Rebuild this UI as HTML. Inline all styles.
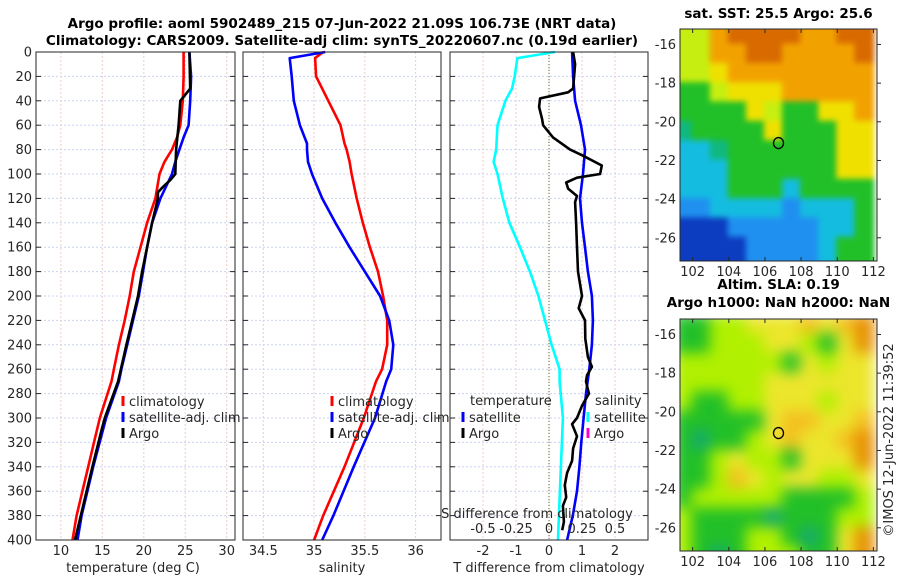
<!DOCTYPE html>
<html><head><meta charset="utf-8"><style>
html,body{margin:0;padding:0;background:#fff;}
svg{display:block;font-family:"DejaVu Sans","Liberation Sans",sans-serif;}
.tk{font-size:13px;fill:#262626;}
.tt{font-size:13.5px;font-weight:bold;fill:#000;}
</style></head><body>
<svg id="fig" width="900" height="580" viewBox="0 0 900 580" xmlns="http://www.w3.org/2000/svg">
<text class="tt" x="342" y="28" text-anchor="middle">Argo profile: aoml 5902489_215 07-Jun-2022 21.09S 106.73E (NRT data)</text>
<text class="tt" x="342" y="45" text-anchor="middle">Climatology: CARS2009. Satellite-adj clim: synTS_20220607.nc (0.19d earlier)</text>
<g id="grid"></g>
<g id="series"></g>
<g id="axes"></g>
<g id="maps"></g>
<text class="tk" transform="translate(893,440) rotate(-90)" text-anchor="middle">©IMOS 12-Jun-2022 11:39:52</text>
</svg>
<script>
// ---- data ----
const depthTicks = [0,20,40,60,80,100,120,140,160,180,200,220,240,260,280,300,320,340,360,380,400];
const tTicks = [10,15,20,25,30];
const sTicks = [34.5,35,35.5,36];
const dTTicks = [-2,-1,0,1,2];
const dSTicks = [-0.5,-0.25,0,0.25,0.5];
const dSTickLabels = ['-0.5','-0.25','0','0.25','0.5'];

const climDepth = [0,20,40,60,70,80,90,100,120,140,160,180,200,220,240,260,270,300,340,380,400];
const tClim    = [24.8,24.8,24.7,24.4,24.0,23.4,22.5,21.9,21.4,20.4,19.6,18.8,18.3,17.7,17.0,16.4,16.1,14.7,13.3,11.9,11.4];
const tSat     = [25.5,25.7,25.6,25.4,24.8,24.3,23.8,23.4,22.0,21.0,20.4,19.9,19.4,18.7,18.0,17.3,17.0,15.45,13.9,12.5,12.0];
const argoDepthT = [0,30,35,40,60,80,100,105,110,115,120,140,160,180,200,240,270,300,310,340,380,400];
const tArgo    = [25.5,25.6,25.0,24.4,24.2,23.9,23.8,23.2,22.4,21.7,21.7,21.0,20.4,19.8,19.3,17.9,16.9,15.3,14.9,13.8,12.4,11.7];

const salDepth = [0,5,20,40,60,75,80,90,100,120,140,160,180,200,220,240,260,270,300,340,380,400];
const sClim    = [35.09,35.01,35.02,35.14,35.26,35.30,35.32,35.35,35.37,35.42,35.48,35.55,35.63,35.68,35.72,35.72,35.67,35.61,35.49,35.30,35.09,35.00];
const sSat     = [35.11,34.76,34.78,34.80,34.86,34.93,34.93,34.94,34.98,35.08,35.21,35.35,35.50,35.65,35.74,35.78,35.76,35.71,35.60,35.39,35.19,35.08];

const diffDepth = [0,20,40,60,80,100,120,140,160,180,200,220,240,260,280,300,320,340,360,380,400];
const dTSat    = [0.70,0.73,0.79,0.97,1.09,1.03,0.94,1.00,1.09,1.18,1.30,1.33,1.30,1.22,1.12,1.05,0.98,0.92,0.85,0.72,0.55];
const dSDepth  = [0,5,20,30,40,60,80,90,100,120,140,160,180,200,220,240,260,270,300,340,380,400];
const dSSat    = [0.045,-0.24,-0.26,-0.28,-0.33,-0.39,-0.40,-0.42,-0.39,-0.35,-0.30,-0.22,-0.145,-0.08,-0.03,0.02,0.08,0.08,0.105,0.09,0.075,0.068];
const argoDepthD = [0,10,20,30,33,38,45,55,60,70,80,85,93,100,103,107,112,118,123,140,160,180,200,210,220,235,250,258,265,270,280,290,300,305,315,325,335,345,355,365,372,385,392];
const dTArgo   = [0.73,0.79,0.76,0.73,0.58,-0.27,-0.30,-0.21,-0.18,0.12,0.64,1.03,1.60,1.55,0.85,0.52,0.58,0.85,0.79,0.82,0.85,0.88,1.00,0.90,1.09,1.10,1.18,1.30,1.15,1.12,1.21,1.00,0.85,0.70,0.85,0.73,0.70,0.55,0.48,0.52,0.42,0.45,0.40];

// ---- scales ----
const yTop=52, yBot=540;
const yD = d => yTop + d*(yBot-yTop)/400;
const P1={x0:36,x1:235,min:7,max:31};
const P2={x0:243,x1:441,min:34.3,max:36.25};
const P3={x0:450,x1:648,min:-3,max:3};
const sx = (p,v) => p.x0 + (v-p.min)*(p.x1-p.x0)/(p.max-p.min);
const xDS = v => sx(P3, v*4);

const NS='http://www.w3.org/2000/svg';
function mk(tag, attrs, parent){const e=document.createElementNS(NS,tag);for(const k in attrs)e.setAttribute(k,attrs[k]);parent.appendChild(e);return e;}
const grid=document.getElementById('grid'), series=document.getElementById('series'), axes=document.getElementById('axes'), maps=document.getElementById('maps');

function panel(p, ticks, labels, name){
  for(const d of depthTicks){
    const l=mk('line',{x1:p.x0,x2:p.x1,y1:yD(d),y2:yD(d),stroke:'#c9d2f0','stroke-width':1,'stroke-dasharray':'2,2'},grid);
    
    
    const t1=mk('line',{x1:p.x0,x2:p.x0+5,y1:yD(d),y2:yD(d),stroke:'#262626'},axes);
    
    
    const t2=mk('line',{x1:p.x1-5,x2:p.x1,y1:yD(d),y2:yD(d),stroke:'#262626'},axes);
    
    
  }
  ticks.forEach((v,i)=>{
    const x=sx(p,v);
    const l=mk('line',{x1:x,x2:x,y1:yTop,y2:yBot,stroke:'#e8cfc8','stroke-width':1,'stroke-dasharray':'2,2'},grid);
    
    
    const t=mk('text',{x:x,y:555,'text-anchor':'middle',class:'tk'},axes);
    t.textContent=labels[i];
    
    
  });
  const r=mk('rect',{x:p.x0,y:yTop,width:p.x1-p.x0,height:yBot-yTop,fill:'none',stroke:'#262626','stroke-width':1},axes);
  
  
}
panel(P1,tTicks,tTicks.map(String),'temperature-panel');
panel(P2,sTicks,sTicks.map(String),'salinity-panel');
panel(P3,dTTicks,dTTicks.map(String),'difference-panel');

depthTicks.forEach(d=>{
  const t=mk('text',{x:32,y:yD(d)+4.5,'text-anchor':'end',class:'tk'},axes);
  t.textContent=String(d);
  
  
});
dSTicks.forEach((v,i)=>{
  const t=mk('text',{x:xDS(v),y:533,'text-anchor':'middle',class:'tk'},axes);
  t.textContent=dSTickLabels[i];
  
  
});
const z=mk('line',{x1:sx(P3,0),x2:sx(P3,0),y1:yTop,y2:yBot,stroke:'#556b2f','stroke-width':1,'stroke-dasharray':'1,2'},grid);



function line(xs, ds, xf, color, name){
  const pts=xs.map((v,i)=>xf(v).toFixed(1)+','+yD(ds[i]).toFixed(1)).join(' ');
  const pl=mk('polyline',{points:pts,fill:'none',stroke:color,'stroke-width':2.6,'stroke-linejoin':'round'},series);
  
  
}
line(tClim, climDepth, v=>sx(P1,v), '#ff0000', 'temperature-climatology-line');
line(tSat, climDepth, v=>sx(P1,v), '#0000ff', 'temperature-satellite-line');
line(tArgo, argoDepthT, v=>sx(P1,v), '#000000', 'temperature-argo-line');
line(sClim, salDepth, v=>sx(P2,v), '#ff0000', 'salinity-climatology-line');
line(sSat, salDepth, v=>sx(P2,v), '#0000ff', 'salinity-satellite-line');
line(dSSat, dSDepth, xDS, '#00ffff', 'salinity-difference-satellite-line');
line(dTSat, diffDepth, v=>sx(P3,v), '#0000ff', 'temperature-difference-satellite-line');
line(dTArgo, argoDepthD, v=>sx(P3,v), '#000000', 'temperature-difference-argo-line');

function axtext(x,y,s,name,anchor){
  const t=mk('text',{x:x,y:y,'text-anchor':anchor||'start',class:'tk'},axes);
  t.textContent=s;
  
  
}
axtext(133,572,'temperature (deg C)','temperature-axis-title','middle');
axtext(342,572,'salinity','salinity-axis-title','middle');
axtext(549,572,'T difference from climatology','t-difference-axis-title','middle');
axtext(537,518,'S difference from climatology','s-difference-axis-title','middle');

function legend(x,y,color,label,name){
  const m=mk('line',{x1:x,x2:x,y1:y-10,y2:y,stroke:color,'stroke-width':3},axes);
  
  
  axtext(x+6,y,label,name+'-label');
}
legend(123,406,'#ff0000','climatology','legend-t-climatology');
legend(123,422,'#0000ff','satellite-adj. clim','legend-t-satellite');
legend(123,438,'#000000','Argo','legend-t-argo');
legend(332,406,'#ff0000','climatology','legend-s-climatology');
legend(332,422,'#0000ff','satellite-adj. clim','legend-s-satellite');
legend(332,438,'#000000','Argo','legend-s-argo');
axtext(470,405,'temperature','legend-temperature-heading');
legend(463,422,'#0000ff','satellite','legend-dt-satellite');
legend(463,438,'#000000','Argo','legend-dt-argo');
axtext(595,405,'salinity','legend-salinity-heading');
legend(588,422,'#00ffff','satellite','legend-ds-satellite');
legend(588,438,'#ff00cc','Argo','legend-ds-argo');

// ---- maps ----
const mapLonTicks=[102,104,106,108,110,112];
const mapLatTicks=[-16,-18,-20,-22,-24,-26];
const argoLon=106.75, argoLat=-21.1;
const sstPal={O:'#d86a00',o:'#f2a200',Y:'#f0e000',y:'#c6ee10',G:'#22c028',g:'#10b880',C:'#14bce0',B:'#2090f0',D:'#0c3cc0'};
const sstGrid=['yyoOOOOooOO','yyooOOooooO','yyYoooooooo','GGyYYYooooo','GGGGYyGGYYo','gGGGGYGGGYY','CCgGGGGGGYY','CCCGGGGGGYY','CCCGGGCGGGG','BBCCCCBCCCG','DDDBBBBBCCG','DDDDBBBBCGG','DDDDBBBBCGG'];
const slaPal={G:'#22c028',g:'#14aa70',L:'#b0f000',Y:'#ece62c',o:'#f4c020',O:'#e69000'};
const slaGrid=['GGLLYYYoYoO','GGLLLYYLGYO','LLLLLLGYLYY','LLLLLYYYYYY','LGGLLYYYLYY','GGGGGYooYYo','GgGGLYoYYoO','GGLYLLGYYYO','GGLoYLYYLLY','GLLLLLGGGGL','LGGGGgGGGLL','LGGGLLGgGYO','LGgGLLLGGYO'];

const defs=mk('defs',{},maps);

function drawMap(y0,y1,gridData,pal,blurPx,name,title1,title2){
  const x0=680,x1=877,lonMin=101.3,lonMax=112.2,latMax=-15.2,latMin=-27.2;
  const mx=v=>x0+(v-lonMin)*(x1-x0)/(lonMax-lonMin);
  const my=v=>y0+(latMax-v)*(y1-y0)/(latMax-latMin);
  const cp=mk('clipPath',{id:'clip-'+name},defs);
  mk('rect',{x:x0,y:y0,width:x1-x0,height:y1-y0},cp);
  const g=mk('g',{'clip-path':'url(#clip-'+name+')'},maps);
  
  
  const inner=mk('g',{style:'filter:blur('+blurPx+'px)'},g);
  gridData.forEach((row,r)=>{
    [...row].forEach((c,k)=>{
      const lo=101.0+k*1.0, la=-15.0-r*1.0;
      mk('rect',{x:mx(lo)-1,y:my(la)-1,width:(x1-x0)/(lonMax-lonMin)+2,height:(y1-y0)/(latMax-latMin)+2,fill:pal[c]},inner);
    });
  });
  const fr=mk('rect',{x:x0,y:y0,width:x1-x0,height:y1-y0,fill:'none',stroke:'#262626'},maps);
  
  
  mapLonTicks.forEach(v=>{
    mk('line',{x1:mx(v),x2:mx(v),y1:y1,y2:y1-4,stroke:'#262626'},maps);
    mk('line',{x1:mx(v),x2:mx(v),y1:y0,y2:y0+4,stroke:'#262626'},maps);
    const t=mk('text',{x:mx(v),y:y1+15,'text-anchor':'middle',class:'tk'},maps);
    t.textContent=String(v);
    
    
  });
  mapLatTicks.forEach(v=>{
    mk('line',{x1:x1,x2:x1+4,y1:my(v),y2:my(v),stroke:'#262626'},maps);
    const t=mk('text',{x:676,y:my(v)+4.5,'text-anchor':'end',class:'tk'},maps);
    t.textContent=String(v);
    
    
  });
  const c=mk('ellipse',{cx:mx(argoLon),cy:my(argoLat),rx:5,ry:5.5,fill:'none',stroke:'#000','stroke-width':1.3},maps);
  
  
  const t1=mk('text',{x:(x0+x1)/2,y:title2?y0-30:y0-11,'text-anchor':'middle',class:'tt'},maps);
  t1.textContent=title1;
  
  
  if(title2){
    const t2=mk('text',{x:(x0+x1)/2,y:y0-12,'text-anchor':'middle',class:'tt'},maps);
    t2.textContent=title2;
    
    
  }
}
drawMap(29,261,sstGrid,sstPal,3,'sst-map','sat. SST: 25.5 Argo: 25.6');
drawMap(319,551,slaGrid,slaPal,7,'sla-map','Altim. SLA: 0.19','Argo h1000: NaN h2000: NaN');
</script>
</body></html>
